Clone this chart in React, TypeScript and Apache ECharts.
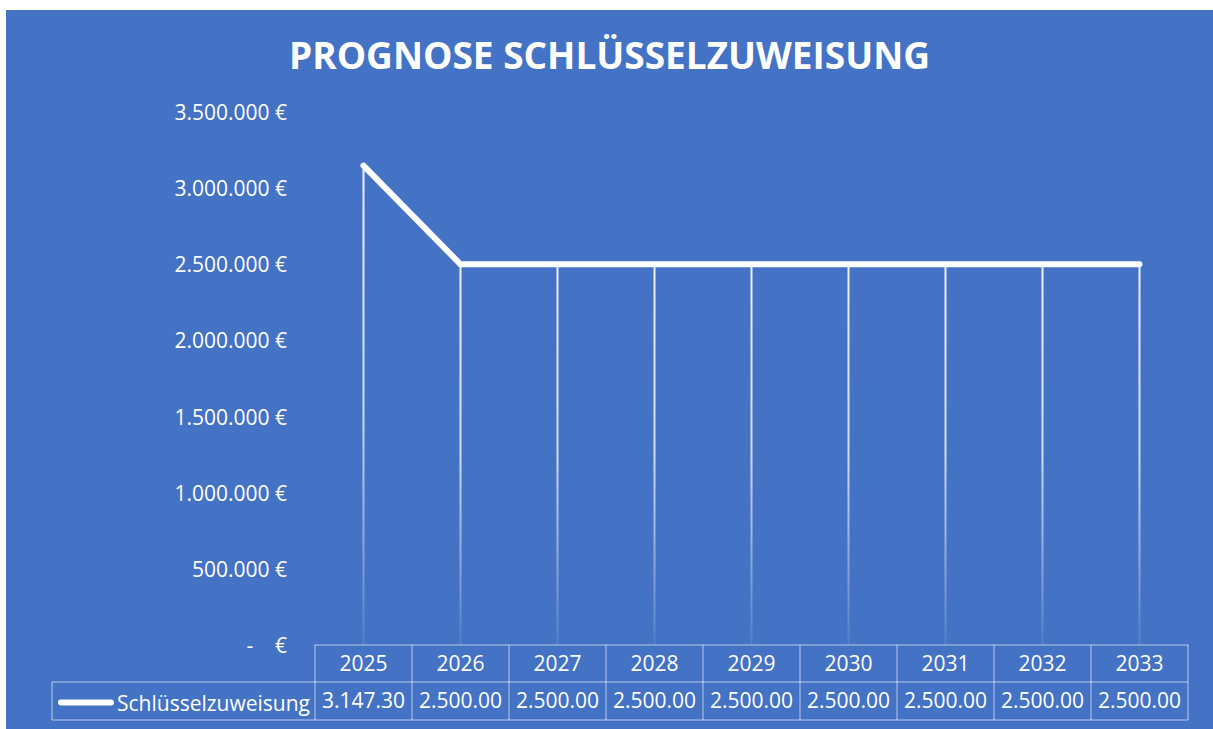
import React, { useEffect, useRef } from "react";
import * as echarts from "echarts";

const titleText = "PROGNOSE SCHLÜSSELZUWEISUNG";
const seriesName = "Schlüsselzuweisung";
const years = ["2025", "2026", "2027", "2028", "2029", "2030", "2031", "2032", "2033"];
const values = [3147300, 2500000, 2500000, 2500000, 2500000, 2500000, 2500000, 2500000, 2500000];
const yMin = 0;
const yMax = 3500000;
const yInterval = 500000;

const BG = "#4472C4";
const BORDER = "rgba(255,255,255,0.42)";
const FONT = "'Open Sans', 'Noto Sans', sans-serif";

function group(intStr: string): string {
  return intStr.replace(/\B(?=(\d{3})+(?!\d))/g, ".");
}
function yLabel(v: number): string {
  if (v === 0) return "-    €";
  return group(String(Math.round(v))) + " €";
}
function tableLabel(v: number): string {
  const s = (v / 1000).toFixed(2);
  const [i, d] = s.split(".");
  return group(i) + "." + d;
}

export default function App() {
  const ref = useRef<HTMLDivElement>(null);
  useEffect(() => {
    const chart = echarts.init(ref.current!, null, { renderer: "svg" });
    const option: any = {
      animation: false,
      backgroundColor: BG,
      textStyle: { fontFamily: FONT },
      title: {
        text: titleText,
        left: "center",
        top: 21,
        textStyle: { color: "#fff", fontSize: 37, fontWeight: "bold", fontFamily: FONT },
      },
      legend: {
        data: [seriesName],
        left: 52,
        top: 682,
        padding: 0,
        itemWidth: 56,
        itemHeight: 6,
        itemGap: 4,
        icon: "path://M3,0 L53,0 A3,3 0 0 1 53,6 L3,6 A3,3 0 0 1 3,0 Z",
        textStyle: { color: "#fff", fontSize: 21, fontFamily: FONT, padding: [0, 0, 0, -2] },
      },
      grid: { left: 309, right: 25, top: 102, bottom: 84, containLabel: false },
      xAxis: [
        {
          type: "category",
          data: years,
          position: "bottom",
          boundaryGap: true,
          axisLine: { show: true, lineStyle: { color: BORDER, width: 1.5 } },
          axisTick: { show: true, interval: 0, length: 75, lineStyle: { color: BORDER, width: 1.5 } },
          axisLabel: { color: "#fff", fontSize: 21, margin: 7, interval: 0, fontFamily: FONT },
          splitLine: { show: false },
        },
        {
          type: "category",
          data: values.map(tableLabel),
          position: "bottom",
          offset: 37,
          boundaryGap: true,
          axisLine: { show: false },
          axisTick: { show: false },
          axisLabel: { color: "#fff", fontSize: 21, margin: 7, interval: 0, fontFamily: FONT },
          splitLine: { show: false },
        },
      ],
      yAxis: {
        type: "value",
        min: yMin,
        max: yMax,
        interval: yInterval,
        axisLine: { show: false },
        axisTick: { show: false },
        splitLine: { show: false },
        axisLabel: { color: "#fff", fontSize: 21, margin: 28, formatter: yLabel, fontFamily: FONT },
      },
      graphic: [
        { type: "line", shape: { x1: 46, y1: 672, x2: 1182, y2: 672 }, style: { stroke: BORDER, lineWidth: 1.5 } },
        { type: "line", shape: { x1: 46, y1: 710, x2: 1182, y2: 710 }, style: { stroke: BORDER, lineWidth: 1.5 } },
        { type: "line", shape: { x1: 46, y1: 672, x2: 46, y2: 710 }, style: { stroke: BORDER, lineWidth: 1.5 } },
      ],
      series: [
        {
          type: "custom",
          name: "drop",
          xAxisIndex: 0,
          yAxisIndex: 0,
          z: 1,
          data: values.map((v, i) => [i, v]),
          encode: { x: 0, y: 1 },
          renderItem: (_params: any, api: any) => {
            const top = api.coord([api.value(0), api.value(1)]);
            const bottom = api.coord([api.value(0), 0]);
            return {
              type: "rect",
              shape: { x: top[0] - 1, y: top[1], width: 2, height: bottom[1] - top[1] },
              style: {
                fill: new echarts.graphic.LinearGradient(0, 0, 0, 1, [
                  { offset: 0, color: "rgba(255,255,255,0.9)" },
                  { offset: 0.5, color: "rgba(255,255,255,0.75)" },
                  { offset: 1, color: "rgba(255,255,255,0.08)" },
                ]),
              },
            };
          },
        },
        {
          type: "line",
          name: seriesName,
          xAxisIndex: 0,
          yAxisIndex: 0,
          z: 3,
          data: values,
          color: "#ffffff",
          showSymbol: false,
          symbol: "none",
          lineStyle: { color: "#ffffff", width: 6, cap: "round", join: "round" },
        },
      ],
    };
    chart.setOption(option);
    return () => chart.dispose();
  }, []);
  return (
    <div
      ref={ref}
      style={{ position: "fixed", left: 6, top: 10, width: 1207, height: 719 }}
    />
  );
}
